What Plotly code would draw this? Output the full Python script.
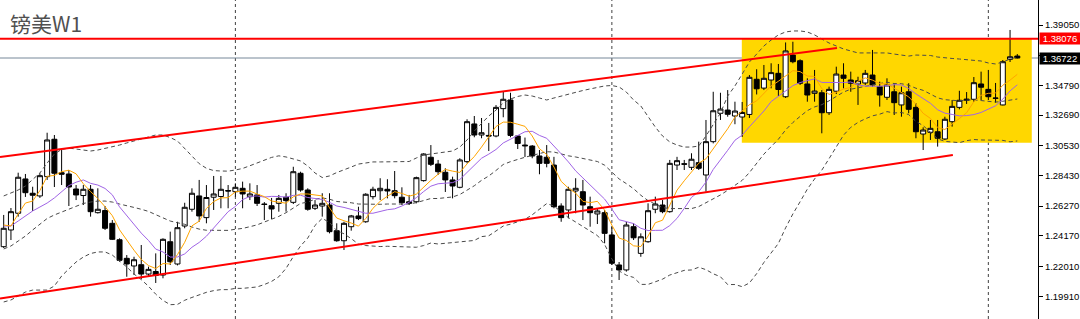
import plotly.graph_objects as go

# ---------------- data (weekly GBPUSD) ----------------
open_ = [1.2341, 1.2459, 1.2577, 1.2819, 1.2718, 1.2699, 1.2835, 1.3099, 1.2863, 1.2854,
         1.2748, 1.2702, 1.2746, 1.2581, 1.2596, 1.2506, 1.2390, 1.2259, 1.2205, 1.2214,
         1.2148, 1.2166, 1.2141, 1.2376, 1.2219, 1.2487, 1.2605, 1.2699, 1.2546, 1.2690,
         1.2695, 1.2737, 1.2729, 1.2753, 1.2694, 1.2706, 1.2642, 1.2630, 1.2647, 1.2690,
         1.2654, 1.2859, 1.2741, 1.2612, 1.2628, 1.2635, 1.2454, 1.2383, 1.2482, 1.2558,
         1.2517, 1.2694, 1.2736, 1.2746, 1.2736, 1.2690, 1.2658, 1.2658, 1.2807, 1.2972,
         1.2924, 1.2866, 1.2812, 1.2760, 1.2941, 1.3207, 1.3129, 1.3126, 1.3122, 1.3315,
         1.3376, 1.3122, 1.3058, 1.3051, 1.2981, 1.2972, 1.2917, 1.2628, 1.2600, 1.2734,
         1.2729, 1.2623, 1.2572, 1.2581, 1.2424, 1.2212, 1.2177, 1.2482, 1.2294, 1.2376,
         1.2605, 1.2635, 1.2588, 1.2917, 1.2926, 1.2901, 1.2934, 1.2847, 1.3082, 1.3282,
         1.3305, 1.3263, 1.3256, 1.3274, 1.3522, 1.3460, 1.3517, 1.3564, 1.3399, 1.3693,
         1.3653, 1.3489, 1.3423, 1.3427, 1.3286, 1.3438, 1.3552, 1.3517, 1.3489, 1.3496,
         1.3552, 1.3470, 1.3395, 1.3434, 1.3341, 1.3434, 1.3324, 1.3136, 1.3148, 1.3152,
         1.3101, 1.3223, 1.3324, 1.3374, 1.3381, 1.3489, 1.3451, 1.3390, 1.3341, 1.3663,
         1.3686]
high = [1.2565, 1.2614, 1.2863, 1.2854, 1.2764, 1.2859, 1.3145, 1.3129, 1.3023, 1.2882,
        1.2776, 1.2776, 1.2776, 1.2753, 1.2628, 1.2529, 1.2400, 1.2282, 1.2270, 1.2353,
        1.2200, 1.2294, 1.2400, 1.2447, 1.2517, 1.2651, 1.2753, 1.2812, 1.2776, 1.2840,
        1.2840, 1.2776, 1.2788, 1.2800, 1.2788, 1.2776, 1.2656, 1.2685, 1.2706, 1.2718,
        1.2905, 1.2870, 1.2753, 1.2670, 1.2718, 1.2718, 1.2506, 1.2517, 1.2565, 1.2623,
        1.2718, 1.2764, 1.2824, 1.2817, 1.2875, 1.2760, 1.2706, 1.2835, 1.3000, 1.3058,
        1.2953, 1.2894, 1.2835, 1.2965, 1.3240, 1.3263, 1.3249, 1.3214, 1.3340, 1.3439,
        1.3427, 1.3129, 1.3111, 1.3058, 1.3023, 1.3058, 1.2975, 1.2647, 1.2764, 1.2824,
        1.2812, 1.2694, 1.2612, 1.2600, 1.2482, 1.2233, 1.2517, 1.2506, 1.2435, 1.2647,
        1.2694, 1.2670, 1.2953, 1.2975, 1.2953, 1.3000, 1.3082, 1.3235, 1.3434, 1.3427,
        1.3446, 1.3364, 1.3362, 1.3552, 1.3593, 1.3623, 1.3635, 1.3630, 1.3782, 1.3787,
        1.3663, 1.3529, 1.3588, 1.3446, 1.3470, 1.3611, 1.3635, 1.3576, 1.3540, 1.3588,
        1.3729, 1.3505, 1.3529, 1.3494, 1.3470, 1.3494, 1.3353, 1.3183, 1.3235, 1.3235,
        1.3258, 1.3376, 1.3441, 1.3432, 1.3538, 1.3576, 1.3588, 1.3496, 1.3658, 1.3870,
        1.3700]
low = [1.2332, 1.2388, 1.2553, 1.2692, 1.2593, 1.2685, 1.2812, 1.2762, 1.2776, 1.2628,
       1.2670, 1.2635, 1.2553, 1.2575, 1.2459, 1.2388, 1.2235, 1.2129, 1.2141, 1.2113,
       1.2129, 1.2085, 1.2118, 1.2212, 1.2209, 1.2471, 1.2588, 1.2517, 1.2506, 1.2600,
       1.2612, 1.2612, 1.2694, 1.2612, 1.2670, 1.2628, 1.2529, 1.2536, 1.2588, 1.2588,
       1.2642, 1.2729, 1.2595, 1.2600, 1.2553, 1.2435, 1.2376, 1.2318, 1.2454, 1.2529,
       1.2510, 1.2675, 1.2670, 1.2682, 1.2682, 1.2635, 1.2635, 1.2647, 1.2800, 1.2910,
       1.2847, 1.2727, 1.2682, 1.2753, 1.2929, 1.3113, 1.3106, 1.3016, 1.3113, 1.3254,
       1.3113, 1.3030, 1.2974, 1.2965, 1.2852, 1.2901, 1.2612, 1.2517, 1.2541, 1.2577,
       1.2529, 1.2482, 1.2501, 1.2365, 1.2212, 1.2106, 1.2165, 1.2388, 1.2270, 1.2369,
       1.2577, 1.2577, 1.2581, 1.2882, 1.2882, 1.2882, 1.2882, 1.2729, 1.3070, 1.3235,
       1.3258, 1.3205, 1.3115, 1.3249, 1.3415, 1.3446, 1.3458, 1.3404, 1.3390, 1.3635,
       1.3482, 1.3364, 1.3364, 1.3141, 1.3270, 1.3418, 1.3458, 1.3434, 1.3341, 1.3482,
       1.3470, 1.3329, 1.3376, 1.3270, 1.3258, 1.3282, 1.3106, 1.3023, 1.3094, 1.3047,
       1.3094, 1.3188, 1.3310, 1.3348, 1.3364, 1.3376, 1.3376, 1.3357, 1.3338, 1.3644,
       1.3669]
close = [1.2471, 1.2588, 1.2831, 1.2722, 1.2704, 1.2842, 1.3094, 1.2859, 1.2852, 1.2762,
         1.2706, 1.2746, 1.2588, 1.2605, 1.2471, 1.2393, 1.2245, 1.2219, 1.2249, 1.2148,
         1.2181, 1.2138, 1.2393, 1.2235, 1.2475, 1.2619, 1.2718, 1.2558, 1.2688, 1.2713,
         1.2746, 1.2734, 1.2760, 1.2713, 1.2713, 1.2647, 1.2639, 1.2607, 1.2682, 1.2666,
         1.2870, 1.2741, 1.2605, 1.2635, 1.2647, 1.2447, 1.2383, 1.2506, 1.2558, 1.2539,
         1.2711, 1.2746, 1.2753, 1.2734, 1.2701, 1.2651, 1.2647, 1.2828, 1.2995, 1.2922,
         1.2870, 1.2812, 1.2769, 1.2953, 1.3223, 1.3129, 1.3145, 1.3122, 1.3324, 1.3381,
         1.3126, 1.3069, 1.3053, 1.2981, 1.2929, 1.2929, 1.2623, 1.2546, 1.2746, 1.2753,
         1.2635, 1.2581, 1.2593, 1.2435, 1.2224, 1.2177, 1.2494, 1.2404, 1.2411, 1.2595,
         1.2642, 1.2588, 1.2929, 1.2948, 1.2923, 1.2958, 1.2894, 1.3082, 1.3300, 1.3312,
         1.3275, 1.3298, 1.3288, 1.3536, 1.3455, 1.3529, 1.3569, 1.3450, 1.3722, 1.3646,
         1.3494, 1.3411, 1.3439, 1.3286, 1.3451, 1.3559, 1.3529, 1.3494, 1.3512, 1.3564,
         1.3482, 1.3411, 1.3482, 1.3357, 1.3427, 1.3310, 1.3152, 1.3164, 1.3176, 1.3106,
         1.3240, 1.3331, 1.3374, 1.3381, 1.3498, 1.3466, 1.3399, 1.3388, 1.3646, 1.3681,
         1.3672]
ma_fast = [1.2494, 1.2487, 1.2572, 1.2649, 1.2663, 1.2737, 1.2838, 1.2844, 1.2870, 1.2881,
           1.2855, 1.2785, 1.2730, 1.2681, 1.2623, 1.2560, 1.2460, 1.2387, 1.2316, 1.2251,
           1.2208, 1.2187, 1.2222, 1.2219, 1.2285, 1.2372, 1.2488, 1.2521, 1.2611, 1.2659,
           1.2685, 1.2687, 1.2728, 1.2733, 1.2733, 1.2713, 1.2694, 1.2663, 1.2658, 1.2648,
           1.2693, 1.2713, 1.2713, 1.2704, 1.2699, 1.2615, 1.2543, 1.2524, 1.2508, 1.2486,
           1.2539, 1.2612, 1.2661, 1.2697, 1.2729, 1.2717, 1.2697, 1.2712, 1.2764, 1.2809,
           1.2852, 1.2886, 1.2874, 1.2865, 1.2925, 1.2977, 1.3044, 1.3114, 1.3189, 1.3220,
           1.3219, 1.3205, 1.3190, 1.3122, 1.3032, 1.2992, 1.2903, 1.2802, 1.2754, 1.2719,
           1.2661, 1.2652, 1.2661, 1.2599, 1.2493, 1.2402, 1.2385, 1.2347, 1.2342, 1.2416,
           1.2510, 1.2528, 1.2633, 1.2740, 1.2806, 1.2869, 1.2930, 1.2961, 1.3032, 1.3110,
           1.3173, 1.3255, 1.3296, 1.3343, 1.3370, 1.3421, 1.3475, 1.3508, 1.3545, 1.3583,
           1.3576, 1.3545, 1.3542, 1.3456, 1.3416, 1.3430, 1.3453, 1.3464, 1.3509, 1.3532,
           1.3516, 1.3492, 1.3490, 1.3459, 1.3432, 1.3398, 1.3346, 1.3282, 1.3246, 1.3182,
           1.3168, 1.3204, 1.3245, 1.3286, 1.3364, 1.3409, 1.3423, 1.3425, 1.3480, 1.3516,
           1.3557]
ma_slow = [1.2487, 1.2487, 1.2522, 1.2558, 1.2593, 1.2621, 1.2649, 1.2685, 1.2727, 1.2772,
           1.2796, 1.2812, 1.2788, 1.2776, 1.2752, 1.2707, 1.2622, 1.2558, 1.2498, 1.2437,
           1.2385, 1.2324, 1.2304, 1.2268, 1.2268, 1.2290, 1.2337, 1.2371, 1.2415, 1.2472,
           1.2528, 1.2588, 1.2625, 1.2673, 1.2696, 1.2699, 1.2691, 1.2696, 1.2695, 1.2691,
           1.2703, 1.2704, 1.2688, 1.2680, 1.2674, 1.2654, 1.2628, 1.2618, 1.2606, 1.2593,
           1.2577, 1.2577, 1.2592, 1.2602, 1.2608, 1.2628, 1.2654, 1.2687, 1.2730, 1.2768,
           1.2785, 1.2791, 1.2793, 1.2815, 1.2867, 1.2915, 1.2965, 1.2994, 1.3027, 1.3073,
           1.3098, 1.3124, 1.3152, 1.3155, 1.3126, 1.3106, 1.3054, 1.2996, 1.2939, 1.2876,
           1.2826, 1.2778, 1.2732, 1.2677, 1.2606, 1.2531, 1.2518, 1.2504, 1.2471, 1.2455,
           1.2456, 1.2457, 1.2490, 1.2541, 1.2611, 1.2689, 1.2729, 1.2797, 1.2886, 1.2958,
           1.3021, 1.3092, 1.3128, 1.3187, 1.3240, 1.3298, 1.3365, 1.3402, 1.3444, 1.3477,
           1.3499, 1.3510, 1.3525, 1.3500, 1.3499, 1.3503, 1.3499, 1.3503, 1.3482, 1.3474,
           1.3473, 1.3473, 1.3477, 1.3484, 1.3482, 1.3457, 1.3419, 1.3387, 1.3353, 1.3307,
           1.3283, 1.3274, 1.3264, 1.3266, 1.3273, 1.3288, 1.3313, 1.3335, 1.3382, 1.3440,
           1.3483]
bb_mid = [1.2325, 1.2346, 1.2381, 1.2416, 1.2459, 1.2501, 1.2540, 1.2565, 1.2586, 1.2607,
          1.2628, 1.2646, 1.2656, 1.2663, 1.2663, 1.2656, 1.2642, 1.2632, 1.2618, 1.2605,
          1.2590, 1.2567, 1.2546, 1.2522, 1.2510, 1.2499, 1.2480, 1.2465, 1.2457, 1.2455,
          1.2457, 1.2456, 1.2464, 1.2470, 1.2482, 1.2495, 1.2515, 1.2534, 1.2555, 1.2581,
          1.2615, 1.2646, 1.2656, 1.2676, 1.2685, 1.2676, 1.2660, 1.2657, 1.2651, 1.2642,
          1.2640, 1.2641, 1.2640, 1.2642, 1.2641, 1.2641, 1.2642, 1.2652, 1.2668, 1.2681,
          1.2681, 1.2685, 1.2692, 1.2709, 1.2737, 1.2771, 1.2809, 1.2840, 1.2879, 1.2921,
          1.2941, 1.2958, 1.2972, 1.2985, 1.2996, 1.3011, 1.3009, 1.2995, 1.2982, 1.2974,
          1.2962, 1.2951, 1.2942, 1.2916, 1.2867, 1.2819, 1.2786, 1.2750, 1.2704, 1.2666,
          1.2641, 1.2617, 1.2610, 1.2609, 1.2609, 1.2610, 1.2624, 1.2651, 1.2678, 1.2706,
          1.2739, 1.2774, 1.2809, 1.2864, 1.2926, 1.2994, 1.3047, 1.3099, 1.3165, 1.3217,
          1.3260, 1.3301, 1.3327, 1.3343, 1.3370, 1.3400, 1.3432, 1.3452, 1.3463, 1.3475,
          1.3486, 1.3492, 1.3501, 1.3492, 1.3491, 1.3480, 1.3459, 1.3444, 1.3418, 1.3391,
          1.3378, 1.3374, 1.3370, 1.3375, 1.3377, 1.3372, 1.3366, 1.3361, 1.3367, 1.3373,
          1.3383]
bb_upper = [1.2699, 1.2720, 1.2741, 1.2769, 1.2812, 1.2861, 1.2931, 1.2995, 1.3027, 1.3037,
            1.3030, 1.3023, 1.3016, 1.3023, 1.3034, 1.3044, 1.3058, 1.3073, 1.3087, 1.3101,
            1.3118, 1.3129, 1.3129, 1.3111, 1.3087, 1.3035, 1.2977, 1.2927, 1.2894, 1.2878,
            1.2875, 1.2874, 1.2882, 1.2893, 1.2912, 1.2932, 1.2955, 1.2971, 1.2982, 1.2974,
            1.2960, 1.2946, 1.2910, 1.2861, 1.2829, 1.2840, 1.2864, 1.2882, 1.2903, 1.2924,
            1.2931, 1.2939, 1.2939, 1.2939, 1.2939, 1.2939, 1.2942, 1.2967, 1.2988, 1.2995,
            1.3002, 1.3006, 1.3016, 1.3044, 1.3094, 1.3157, 1.3207, 1.3263, 1.3305, 1.3355,
            1.3383, 1.3401, 1.3411, 1.3404, 1.3390, 1.3376, 1.3390, 1.3404, 1.3418, 1.3432,
            1.3443, 1.3454, 1.3464, 1.3475, 1.3478, 1.3468, 1.3432, 1.3376, 1.3334, 1.3256,
            1.3185, 1.3122, 1.3080, 1.3058, 1.3044, 1.3044, 1.3051, 1.3122, 1.3207, 1.3284,
            1.3404, 1.3475, 1.3559, 1.3644, 1.3700, 1.3757, 1.3799, 1.3835, 1.3856, 1.3863,
            1.3863, 1.3856, 1.3835, 1.3806, 1.3778, 1.3757, 1.3736, 1.3722, 1.3708, 1.3708,
            1.3708, 1.3708, 1.3708, 1.3700, 1.3693, 1.3686, 1.3693, 1.3693, 1.3690, 1.3679,
            1.3672, 1.3669, 1.3665, 1.3662, 1.3658, 1.3651, 1.3637, 1.3630, 1.3644, 1.3665,
            1.3679]
bb_lower = [1.1951, 1.1965, 1.1993, 1.2021, 1.2035, 1.2035, 1.2035, 1.2064, 1.2134, 1.2184,
            1.2233, 1.2268, 1.2293, 1.2304, 1.2304, 1.2282, 1.2240, 1.2198, 1.2148, 1.2109,
            1.2062, 1.2006, 1.1962, 1.1932, 1.1934, 1.1963, 1.1983, 1.2003, 1.2019, 1.2031,
            1.2038, 1.2038, 1.2047, 1.2047, 1.2052, 1.2057, 1.2074, 1.2096, 1.2129, 1.2188,
            1.2271, 1.2346, 1.2402, 1.2491, 1.2541, 1.2512, 1.2455, 1.2432, 1.2398, 1.2359,
            1.2349, 1.2343, 1.2342, 1.2344, 1.2343, 1.2343, 1.2341, 1.2337, 1.2349, 1.2367,
            1.2360, 1.2364, 1.2368, 1.2373, 1.2381, 1.2385, 1.2412, 1.2418, 1.2452, 1.2487,
            1.2500, 1.2515, 1.2534, 1.2566, 1.2603, 1.2645, 1.2628, 1.2586, 1.2546, 1.2515,
            1.2482, 1.2448, 1.2420, 1.2357, 1.2255, 1.2170, 1.2140, 1.2124, 1.2075, 1.2075,
            1.2096, 1.2112, 1.2141, 1.2160, 1.2174, 1.2177, 1.2196, 1.2179, 1.2150, 1.2129,
            1.2074, 1.2074, 1.2059, 1.2085, 1.2151, 1.2230, 1.2295, 1.2364, 1.2474, 1.2572,
            1.2658, 1.2747, 1.2819, 1.2881, 1.2962, 1.3043, 1.3128, 1.3183, 1.3218, 1.3243,
            1.3264, 1.3276, 1.3294, 1.3284, 1.3288, 1.3273, 1.3225, 1.3195, 1.3145, 1.3102,
            1.3084, 1.3079, 1.3075, 1.3089, 1.3097, 1.3094, 1.3095, 1.3092, 1.3091, 1.3081,
            1.3087]

bars = list(range(len(close)))           # weekly bar index
year_breaks = [32, 84, 136]              # first bar of each year
resistance = 1.38076
last_price = 1.36722
tick_vals = [1.39050, 1.36930, 1.34790, 1.32690, 1.30530, 1.28430,
             1.26270, 1.24170, 1.22010, 1.19910]
hidden_ticks = [1.36930]                 # covered by the last-price tag in the reference
channel_top_x = [-0.51, 115.1]
channel_top_y = [1.29738, 1.37428]
channel_bot_x = [-0.51, 131.1]
channel_bot_y = [1.19755, 1.29879]
range_box_x = [101.95, 142.0]
range_box_y = [1.3075, 1.3806]
title_text = "镑美W1"

# ---------------- figure ----------------
fig = go.Figure()

fig.add_trace(go.Candlestick(
    x=bars, open=open_, high=high, low=low, close=close,
    increasing=dict(fillcolor="white", line=dict(color="black", width=1)),
    decreasing=dict(fillcolor="black", line=dict(color="black", width=1)),
    whiskerwidth=0, hoverinfo="skip", showlegend=False))

for band in (bb_upper, bb_mid, bb_lower):
    fig.add_trace(go.Scatter(x=bars, y=band, mode="lines", hoverinfo="skip",
                             line=dict(color="#4a4a4a", width=1, dash="4px,3px"),
                             showlegend=False))

fig.add_trace(go.Scatter(x=bars, y=ma_slow, mode="lines", hoverinfo="skip",
                         line=dict(color="#a064e6", width=1), showlegend=False))
fig.add_trace(go.Scatter(x=bars, y=ma_fast, mode="lines", hoverinfo="skip",
                         line=dict(color="#ffa500", width=1), showlegend=False))

for tx, ty in ((channel_top_x, channel_top_y), (channel_bot_x, channel_bot_y)):
    fig.add_trace(go.Scatter(x=tx, y=ty, mode="lines", hoverinfo="skip",
                             line=dict(color="#ff0000", width=2), showlegend=False))

shapes = [dict(type="rect", xref="x", yref="y",
               x0=range_box_x[0], x1=range_box_x[1],
               y0=range_box_y[0], y1=range_box_y[1],
               fillcolor="#ffd700", line=dict(width=0), layer="below")]
for b in year_breaks:
    shapes.append(dict(type="line", xref="x", yref="paper", x0=b, x1=b, y0=0, y1=1,
                       line=dict(color="#404040", width=1, dash="3px,3px"), layer="below"))
shapes.append(dict(type="line", xref="paper", yref="y", x0=0, x1=1,
                   y0=last_price, y1=last_price,
                   line=dict(color="#778899", width=1), layer="below"))
shapes.append(dict(type="line", xref="paper", yref="y", x0=0, x1=1,
                   y0=resistance, y1=resistance,
                   line=dict(color="#ff0000", width=2), layer="above"))

annotations = [
    dict(text=title_text, xref="paper", yref="paper", x=0, y=1 - 23 / 319,
         xanchor="left", yanchor="middle", xshift=8, showarrow=False,
         font=dict(family="Noto Sans CJK SC", size=21, color="#505050")),
    dict(text=f"{resistance:.5f}", xref="paper", yref="y", x=1, y=resistance,
         xanchor="left", yanchor="middle", xshift=1, showarrow=False,
         bgcolor="#ff0000", width=38, height=9, borderpad=1,
         font=dict(family="Liberation Sans", size=9.5, color="white")),
    dict(text=f"{last_price:.5f}", xref="paper", yref="y", x=1, y=last_price,
         xanchor="left", yanchor="middle", xshift=1, showarrow=False,
         bgcolor="#000000", width=38, height=9, borderpad=1,
         font=dict(family="Liberation Sans", size=9.5, color="white")),
]

fig.update_layout(
    width=1080, height=319,
    margin=dict(l=0, r=42, t=0, b=0),
    paper_bgcolor="white", plot_bgcolor="white",
    showlegend=False, hovermode=False,
    boxgap=0.31, boxgroupgap=0,
    shapes=shapes, annotations=annotations,
    xaxis=dict(range=[-0.511, 142.86], visible=False, fixedrange=True,
               rangeslider=dict(visible=False)),
    yaxis=dict(range=[1.18309, 1.40814], side="right", showgrid=False, zeroline=False,
               showline=True, linecolor="black", linewidth=1,
               ticks="outside", ticklen=4, tickcolor="black",
               tickvals=tick_vals,
               ticktext=["" if v in hidden_ticks else f"{v:.5f}" for v in tick_vals],
               tickfont=dict(family="Liberation Sans", size=9.5, color="black"),
               fixedrange=True),
)

fig.write_html("out.html")
